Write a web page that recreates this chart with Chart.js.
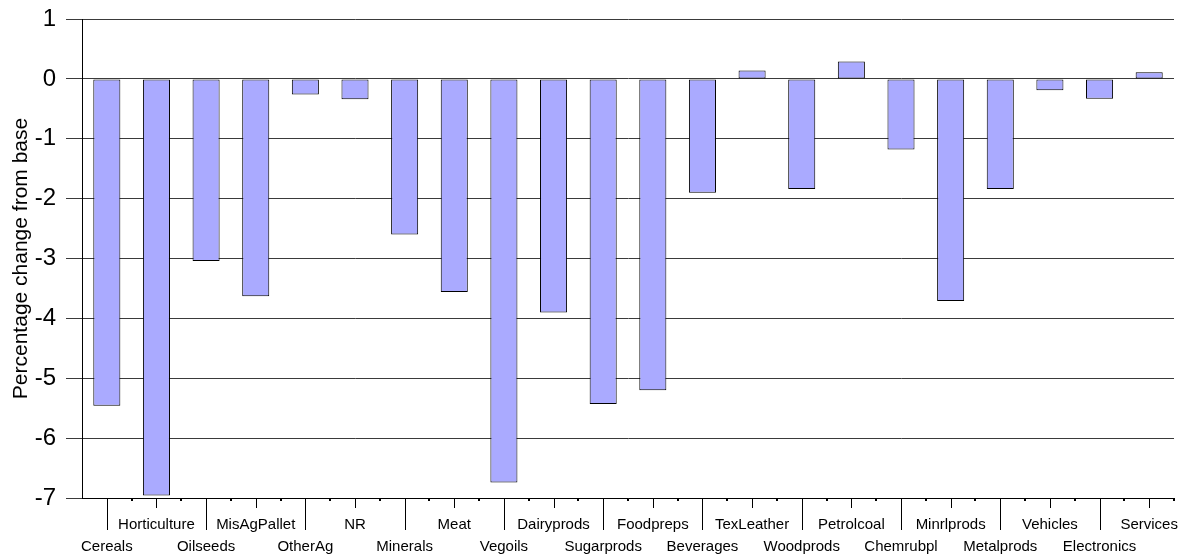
<!DOCTYPE html>
<html>
<head>
<meta charset="utf-8">
<script src="https://cdn.jsdelivr.net/npm/chart.js@4/dist/chart.umd.min.js"></script>
<style>
    html, body { margin: 0; padding: 0; background: #fff; }
    #wrap { width: 1184px; height: 560px; position: relative; }
</style>
</head>
<body>
<div id="wrap"><canvas id="chart"></canvas></div>
<script>
// Données du graphique
const categories = ['Cereals', 'Horticulture', 'Oilseeds', 'MisAgPallet', 'OtherAg', 'NR',
    'Minerals', 'Meat', 'Vegoils', 'Dairyprods', 'Sugarprods', 'Foodpreps', 'Beverages',
    'TexLeather', 'Woodprods', 'Petrolcoal', 'Chemrubpl', 'Minrlprods', 'Metalprods',
    'Vehicles', 'Electronics', 'Services'];
const values = [-5.46, -6.96, -3.04, -3.63, -0.26, -0.34,
    -2.60, -3.56, -6.74, -3.90, -5.43, -5.20, -1.90,
    0.14, -1.84, 0.29, -1.18, -3.71, -1.84,
    -0.19, -0.33, 0.11];
const yMin = -7;
const yMax = 1;
const yStep = 1;
const yTitle = 'Percentage change from base';

const FONT = "'Liberation Sans', Arial, sans-serif";

/**
 * Petits traits sous l'axe des catégories (longs / courts en alternance)
 */
const categoryTicks = {
    id: 'categoryTicks',
    afterDatasetsDraw(chart) {
        const ctx = chart.ctx;
        const x = chart.scales.x;
        const bottom = chart.chartArea.bottom;
        ctx.save();
        ctx.strokeStyle = '#000';
        ctx.lineWidth = 1;
        for (let i = 0; i < categories.length; i++) {
            const px = Math.round(x.getPixelForValue(i)) + 0.5;
            ctx.beginPath();
            ctx.moveTo(px, bottom);
            ctx.lineTo(px, bottom + (i % 2 === 0 ? 32 : 10));
            ctx.stroke();
        }
        // points aux limites des catégories
        ctx.fillStyle = '#000';
        for (let i = 0; i < categories.length; i++) {
            const next = i < categories.length - 1 ? x.getPixelForValue(i + 1) : null;
            const px = next !== null ? (x.getPixelForValue(i) + next) / 2 : chart.chartArea.right;
            ctx.fillRect(Math.round(px) - 1, bottom + 1, 2, 2);
        }
        ctx.restore();
    }
};

function initChart() {
    const ctx = document.getElementById('chart');

    new Chart(ctx, {
        type: 'bar',
        data: {
            labels: categories,
            datasets: [{
                data: values,
                backgroundColor: '#aaaaff',
                borderColor: '#000',
                borderWidth: 1,
                borderSkipped: false,
                categoryPercentage: 1,
                barPercentage: 0.545
            }]
        },
        options: {
            responsive: true,
            maintainAspectRatio: false,
            animation: false,
            devicePixelRatio: 1,
            layout: { padding: { top: 19, right: 10, bottom: 0, left: 0 } },
            plugins: {
                legend: { display: false },
                tooltip: { enabled: false }
            },
            scales: {
                x: {
                    grid: { display: false, drawTicks: false },
                    border: { display: true, color: '#000', width: 1 },
                    ticks: {
                        autoSkip: false,
                        maxRotation: 0,
                        minRotation: 0,
                        padding: 16,
                        color: '#000',
                        font: { family: FONT, size: 15, lineHeight: 1.467 },
                        callback: function (v, i) {
                            return i % 2 === 0 ? ['', categories[i]] : categories[i];
                        }
                    },
                    afterFit: function (scale) {
                        scale.height = 62;
                        scale.paddingLeft = 0;
                        scale.paddingRight = 0;
                    }
                },
                y: {
                    min: yMin,
                    max: yMax,
                    grid: {
                        color: '#3a3a3a',
                        lineWidth: 1,
                        tickLength: 16,
                        tickColor: '#3a3a3a'
                    },
                    border: { display: true, color: '#000', width: 1 },
                    ticks: {
                        stepSize: yStep,
                        padding: 10,
                        color: '#000',
                        font: { family: FONT, size: 24 }
                    },
                    title: {
                        display: true,
                        text: yTitle,
                        color: '#000',
                        font: { family: FONT, size: 21, lineHeight: 1.2 },
                        padding: { top: 9, bottom: 0 }
                    },
                    afterFit: function (scale) {
                        scale.width = 82;
                        scale.paddingTop = 0;
                        scale.paddingBottom = 0;
                    }
                }
            }
        },
        plugins: [categoryTicks]
    });
}

document.addEventListener('DOMContentLoaded', initChart);
</script>
</body>
</html>
